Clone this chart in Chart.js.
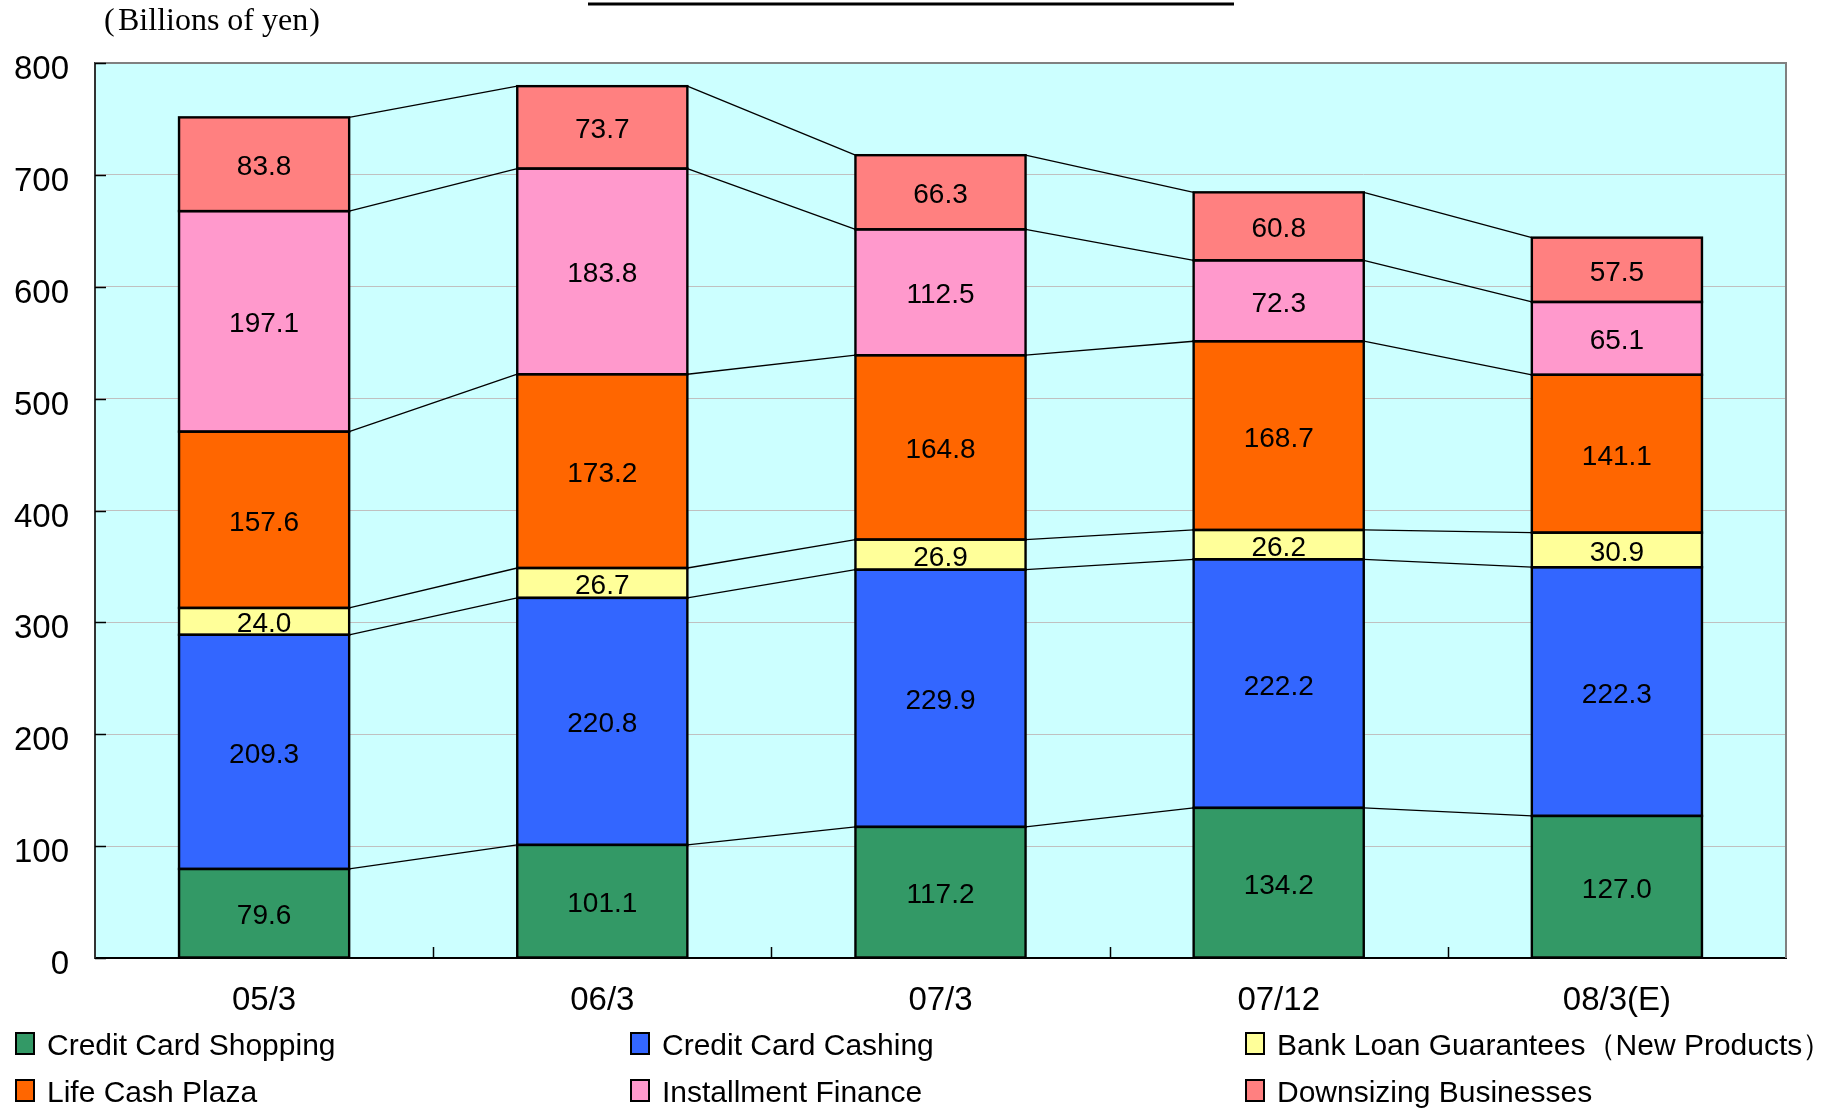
<!DOCTYPE html>
<html><head><meta charset="utf-8">
<script src="https://cdn.jsdelivr.net/npm/chart.js@4.4.0/dist/chart.umd.min.js"></script>
<style>html,body{margin:0;padding:0;background:#fff}#wrap{width:1831px;height:1110px}</style>
</head><body><div id="wrap"><canvas id="c" width="1831" height="1110"></canvas></div>
<script>
const categories = ["05/3", "06/3", "07/3", "07/12", "08/3(E)"];
const creditCardShopping = [79.6, 101.1, 117.2, 134.2, 127.0];
const creditCardCashing = [209.3, 220.8, 229.9, 222.2, 222.3];
const bankLoanGuarantees = [24.0, 26.7, 26.9, 26.2, 30.9];
const lifeCashPlaza = [157.6, 173.2, 164.8, 168.7, 141.1];
const installmentFinance = [197.1, 183.8, 112.5, 72.3, 65.1];
const downsizingBusinesses = [83.8, 73.7, 66.3, 60.8, 57.5];
const seriesNames = ["Credit Card Shopping", "Credit Card Cashing", "Bank Loan Guarantees（New Products）", "Life Cash Plaza", "Installment Finance", "Downsizing Businesses"];
const seriesColors = ["#339966", "#3366FF", "#FFFF99", "#FF6600", "#FF99CC", "#FF8080"];
const yTicks = [0, 100, 200, 300, 400, 500, 600, 700, 800];
const yUnit = "Billions of yen";

const allSeries = [creditCardShopping, creditCardCashing, bankLoanGuarantees, lifeCashPlaza, installmentFinance, downsizingBusinesses];
const FONT = '"Liberation Sans", Arial, sans-serif';

const plotBg = {
  id: 'plotBg',
  beforeDraw(chart) {
    const {ctx, chartArea: a} = chart;
    ctx.save();
    ctx.fillStyle = '#fff';
    ctx.fillRect(0, 0, chart.width, chart.height);
    ctx.fillStyle = '#CCFFFF';
    ctx.fillRect(a.left, a.top, a.right - a.left, a.bottom - a.top);
    ctx.restore();
  }
};

const overlay = {
  id: 'overlay',
  afterDatasetsDraw(chart) {
    const {ctx, chartArea: a} = chart;
    ctx.save();
    // plot border top/right
    ctx.strokeStyle = '#808080';
    ctx.lineWidth = 2;
    ctx.beginPath();
    ctx.moveTo(a.left, a.top); ctx.lineTo(a.right, a.top); ctx.lineTo(a.right, a.bottom);
    ctx.stroke();
    // connector lines
    ctx.strokeStyle = '#000';
    ctx.lineWidth = 1.3;
    chart.data.datasets.forEach((ds, i) => {
      const meta = chart.getDatasetMeta(i);
      for (let j = 0; j < meta.data.length - 1; j++) {
        const e1 = meta.data[j], e2 = meta.data[j + 1];
        ctx.beginPath();
        ctx.moveTo(e1.x + e1.width / 2, e1.y);
        ctx.lineTo(e2.x - e2.width / 2, e2.y);
        ctx.stroke();
      }
    });
    // bar borders (uniform, centred on edges)
    ctx.lineWidth = 2.4;
    chart.data.datasets.forEach((ds, i) => {
      const meta = chart.getDatasetMeta(i);
      meta.data.forEach(e => {
        const p = e.getProps(['x', 'y', 'base', 'width'], true);
        ctx.strokeRect(p.x - p.width / 2, p.y, p.width, p.base - p.y);
      });
    });
    // data labels
    ctx.fillStyle = '#000';
    ctx.font = '28px ' + FONT;
    ctx.textAlign = 'center';
    ctx.textBaseline = 'alphabetic';
    chart.data.datasets.forEach((ds, i) => {
      const meta = chart.getDatasetMeta(i);
      meta.data.forEach((e, j) => {
        const p = e.getProps(['x', 'y', 'base'], true);
        ctx.fillText(ds.data[j].toFixed(1), p.x, (p.y + p.base) / 2 + 11);
      });
    });
    // inner ticks
    ctx.strokeStyle = '#000';
    ctx.lineWidth = 1.5;
    const ys = chart.scales.y;
    yTicks.forEach(v => {
      const y = Math.round(ys.getPixelForValue(v)) + 0.5;
      ctx.beginPath(); ctx.moveTo(a.left, y); ctx.lineTo(a.left + 11, y); ctx.stroke();
    });
    const step = (a.right - a.left) / categories.length;
    for (let k = 1; k < categories.length; k++) {
      const x = Math.round(a.left + step * k) + 0.5;
      ctx.beginPath(); ctx.moveTo(x, a.bottom); ctx.lineTo(x, a.bottom - 11); ctx.stroke();
    }
    ctx.restore();
  },
  afterDraw(chart) {
    const {ctx, chartArea: a} = chart;
    ctx.save();
    // y tick labels
    ctx.fillStyle = '#000';
    ctx.font = '33px ' + FONT;
    ctx.textAlign = 'right';
    ctx.textBaseline = 'alphabetic';
    const ys = chart.scales.y;
    yTicks.forEach(v => {
      ctx.fillText(String(v), a.left - 26, ys.getPixelForValue(v) + 16);
    });
    // x tick labels
    ctx.textAlign = 'center';
    const xs = chart.scales.x;
    categories.forEach((c, i) => {
      ctx.fillText(c, xs.getPixelForValue(i), a.bottom + 52);
    });
    // legend
    ctx.font = '30px ' + FONT;
    ctx.textBaseline = 'alphabetic';
    ctx.textAlign = 'left';
    const colX = [16, 631, 1246];
    const rowY = [1043, 1090];
    chart.data.datasets.forEach((ds, i) => {
      const cx = colX[i % 3], cy = rowY[Math.floor(i / 3)];
      ctx.fillStyle = ds.backgroundColor;
      ctx.fillRect(cx, cy - 10, 18, 21);
      ctx.strokeStyle = '#000';
      ctx.lineWidth = 2;
      ctx.strokeRect(cx, cy - 10, 18, 21);
      ctx.fillStyle = '#000';
      ctx.fillText(ds.label, cx + 31, cy + 12);
    });
    // unit label
    ctx.font = '32px "Liberation Serif", "Times New Roman", serif';
    ctx.fillText('(', 104, 30);
    ctx.fillText(yUnit, 118, 30);
    ctx.textAlign = 'right';
    ctx.fillText(')', 320, 30);
    // title underline (title itself lies above the visible area)
    ctx.strokeStyle = '#000';
    ctx.lineWidth = 3;
    ctx.beginPath(); ctx.moveTo(588, 4); ctx.lineTo(1234, 4); ctx.stroke();
    ctx.restore();
  }
};

new Chart(document.getElementById('c'), {
  type: 'bar',
  data: {
    labels: categories,
    datasets: allSeries.map((d, i) => ({
      label: seriesNames[i],
      data: d,
      backgroundColor: seriesColors[i],
      borderWidth: 0,
      categoryPercentage: 1.0,
      barPercentage: 0.503
    }))
  },
  options: {
    responsive: false,
    animation: false,
    devicePixelRatio: 1,
    layout: { padding: { left: 0, top: 63, right: 45, bottom: 0 } },
    plugins: { legend: { display: false }, title: { display: false }, tooltip: { enabled: false } },
    scales: {
      x: {
        stacked: true,
        grid: { display: false, drawTicks: false },
        border: { display: true, color: '#000', width: 2 },
        ticks: { display: false },
        afterFit(s) { s.height = 1110 - 958; }
      },
      y: {
        stacked: true,
        min: 0, max: 800,
        afterBuildTicks(s) { s.ticks = yTicks.map(v => ({ value: v })); },
        grid: { color: '#c0c0c0', lineWidth: 1, drawTicks: false },
        border: { display: true, color: '#333', width: 2 },
        ticks: { display: false },
        afterFit(s) { s.width = 95; }
      }
    }
  },
  plugins: [plotBg, overlay]
});
</script>
</body></html>
